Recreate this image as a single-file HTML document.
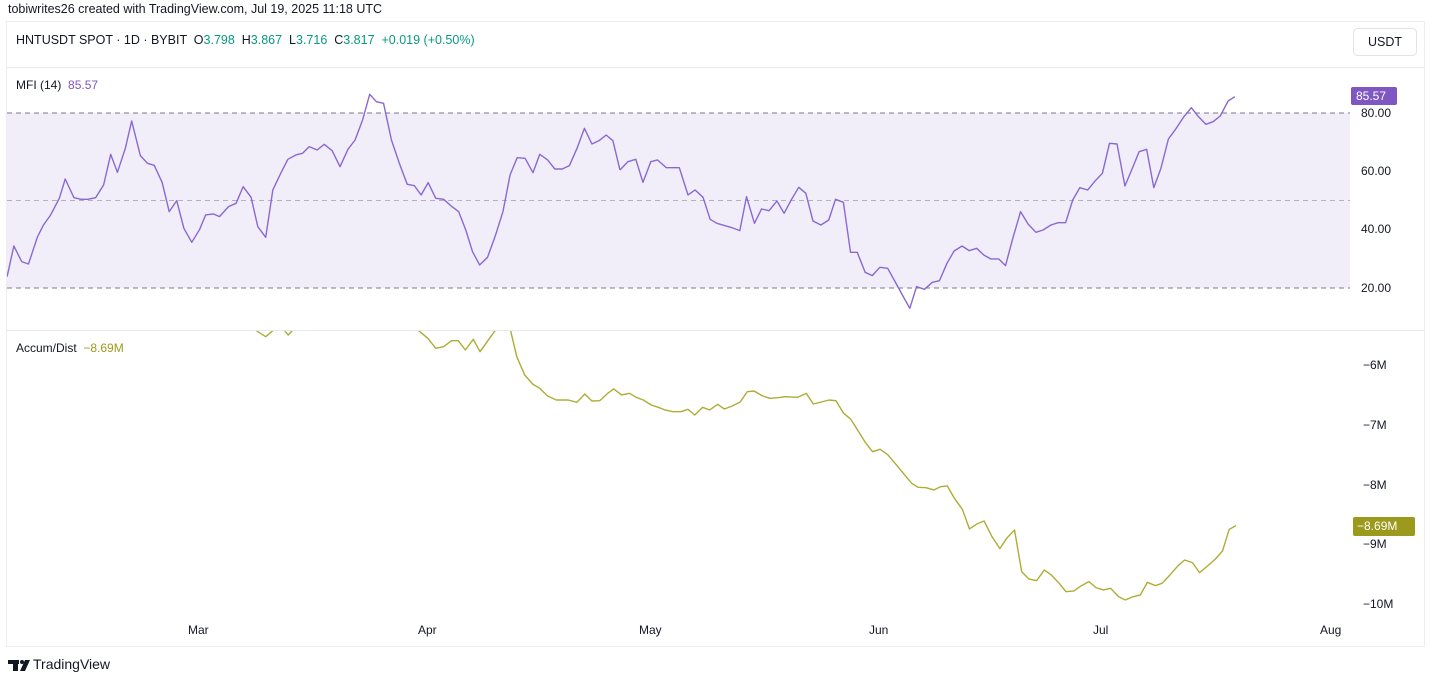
<!DOCTYPE html>
<html><head><meta charset="utf-8">
<style>
html,body{margin:0;padding:0;background:#fff;}
body{width:1438px;height:684px;overflow:hidden;position:relative;font-family:"Liberation Sans",sans-serif;color:#131722;}
.t{position:absolute;white-space:nowrap;font-size:12.5px;}
</style></head><body>
<svg width="1438" height="684" style="position:absolute;left:0;top:0" xmlns="http://www.w3.org/2000/svg">
<defs>
<clipPath id="adclip"><rect x="7" y="331" width="1343" height="290"/></clipPath>
<clipPath id="mclip"><rect x="7" y="68" width="1343" height="262"/></clipPath>
</defs>
<rect x="6.5" y="21.5" width="1418" height="625" fill="#fff" stroke="#eceef3"/>
<line x1="7" y1="67.5" x2="1424" y2="67.5" stroke="#e6e8ef"/>
<line x1="7" y1="330.5" x2="1424" y2="330.5" stroke="#e6e8ef"/>
<rect x="7" y="113" width="1343" height="175" fill="#7e57c2" fill-opacity="0.1"/>
<line x1="7" y1="113" x2="1350" y2="113" stroke="#787b86" stroke-dasharray="5,4"/>
<line x1="7" y1="200.5" x2="1350" y2="200.5" stroke="#9598a1" stroke-dasharray="5,4" stroke-opacity="0.7"/>
<line x1="7" y1="288" x2="1350" y2="288" stroke="#787b86" stroke-dasharray="5,4"/>
<g clip-path="url(#mclip)" fill="none" stroke="#8a68d2" stroke-width="1.4" stroke-linejoin="round">
<polyline vector-effect="non-scaling-stroke" transform="translate(0,60) scale(0.3954,0.3333)" points="18,650 35,558 55,605 72,612 95,530 110,495 128,465 150,415 165,357 187,413 205,418 222,418 242,413 262,375 280,283 297,337 317,265 333,183 355,287 373,310 390,316 410,367 428,455 447,422 465,505 485,547 505,508 520,465 540,462 555,470 578,440 597,430 615,380 635,412 652,500 672,532 690,390 710,340 728,298 748,285 765,280 782,260 802,270 820,253 840,272 860,320 880,268 898,240 917,180 935,103 952,125 970,130 990,240 1010,310 1030,373 1048,377 1065,405 1083,368 1102,415 1122,418 1140,437 1160,455 1178,510 1195,575 1213,615 1233,592 1252,530 1272,455 1290,345 1308,293 1328,295 1348,338 1365,283 1385,300 1403,327 1422,327 1440,317 1460,263 1478,205 1497,252 1515,242 1533,225 1550,242 1568,330"/>
<polyline vector-effect="non-scaling-stroke" transform="translate(620,60) scale(0.3954,0.3333)" points="0,330 20,305 40,298 58,367 78,305 95,300 117,323 150,323 172,405 190,390 210,412 228,478 245,490 283,503 303,512 320,410 340,490 358,447 377,452 397,423 415,460 433,420 452,382 470,400 488,483 508,495 528,480 545,418 565,427 583,577 600,577 620,637 638,647 657,622 677,625 697,668 715,707 733,745 750,680 770,688 790,667 808,662 827,610 845,573 865,558 883,572 902,565 920,585 938,597 958,597 975,617 993,537 1013,455 1032,492 1052,517 1070,510 1090,495 1108,488 1127,488 1145,420 1163,383 1183,390 1200,365 1220,340 1238,250 1257,252 1277,378 1295,327 1313,275 1332,268 1350,383 1368,325 1387,237 1405,208 1425,172 1445,143 1463,170 1482,193 1500,185 1518,168 1538,123 1555,110"/>
</g>
<g clip-path="url(#adclip)" fill="none" stroke="#adad35" stroke-width="1.4" stroke-linejoin="round">
<g transform="translate(240,320) scale(0.3954,0.3333)">
<polyline vector-effect="non-scaling-stroke" points="35,25 45,35 65,50 80,35 90,25"/>
<polyline vector-effect="non-scaling-stroke" points="110,25 115,35 122,45 130,35 135,25"/>
<polyline vector-effect="non-scaling-stroke" points="445,25 455,35 475,55 495,85 515,80 535,62 552,62 570,90 590,58 607,95 625,65 642,37 650,25"/>
<polyline vector-effect="non-scaling-stroke" points="684,25 685,35 700,110 720,165 740,192 758,205 778,228 800,240 830,240 852,247 872,222 890,243 910,242 930,220 945,207 965,225 985,220 1002,232 1020,240 1040,255 1058,262 1075,270 1095,275 1115,275 1133,268 1150,285 1170,262 1188,270 1208,253 1225,267 1245,258 1265,246 1283,215 1300,213 1320,227 1340,235 1360,233 1380,230 1410,232 1432,220 1450,252 1470,246 1490,240"/>
</g>
<polyline vector-effect="non-scaling-stroke" transform="translate(820,320) scale(0.3954,0.3333)" points="22,240 40,242 60,280 78,298 95,330 115,368 133,395 152,388 172,405 192,433 212,462 232,490 248,502 268,503 288,510 305,500 322,498 340,535 360,568 378,627 397,612 415,603 435,650 455,686 472,655 492,630 510,755 528,777 548,782 567,750 585,765 605,790 622,815 642,813 660,798 680,785 698,803 717,810 735,805 755,830 772,840 792,830 810,825 828,787 848,797 865,790 885,765 905,738 922,720 942,728 960,758 980,738 1000,717 1018,693 1035,628 1052,617"/>
</g>
<rect x="1353.5" y="28.5" width="63" height="27" rx="4" fill="#fff" stroke="#e0e3eb"/>
<rect x="1351" y="87" width="46" height="18" rx="2" fill="#7e57c2"/>
<rect x="1353" y="517" width="62" height="19" rx="2" fill="#9c9a1c"/>
<!-- TV logo -->
<g fill="#131722">
<rect x="8" y="660" width="11" height="4"/>
<rect x="13" y="660" width="5" height="11"/>
<circle cx="22" cy="662" r="2"/>
<polygon points="25,660 30,660 25,671 20,671"/>
</g>
</svg>

<div class="t" style="left:8px;top:2px;font-size:12.5px;color:#131722">tobiwrites26 created with TradingView.com, Jul 19, 2025 11:18 UTC</div>
<div class="t" style="left:16px;top:33px;font-size:12.5px">HNTUSDT SPOT · 1D · BYBIT &nbsp;O<span style="color:#089981">3.798</span> &nbsp;H<span style="color:#089981">3.867</span> &nbsp;L<span style="color:#089981">3.716</span> &nbsp;C<span style="color:#089981">3.817</span> &nbsp;<span style="color:#089981">+0.019 (+0.50%)</span></div>
<div class="t" style="left:1368px;top:35px;font-size:12.5px">USDT</div>
<div class="t" style="left:16px;top:78px;font-size:12px">MFI (14) &nbsp;<span style="color:#7e57c2">85.57</span></div>
<div class="t" style="left:16px;top:341px;font-size:12px">Accum/Dist &nbsp;<span style="color:#9c9a1c">−8.69M</span></div>

<div class="t" style="left:1356px;top:89px;color:#fff;font-size:12px">85.57</div>
<div class="t" style="left:1361px;top:106px;font-size:12px">80.00</div>
<div class="t" style="left:1361px;top:164px;font-size:12px">60.00</div>
<div class="t" style="left:1361px;top:222px;font-size:12px">40.00</div>
<div class="t" style="left:1361px;top:281px;font-size:12px">20.00</div>

<div class="t" style="left:1363px;top:358px;font-size:12px">−6M</div>
<div class="t" style="left:1363px;top:418px;font-size:12px">−7M</div>
<div class="t" style="left:1363px;top:478px;font-size:12px">−8M</div>
<div class="t" style="left:1357px;top:519px;font-size:12px;color:#fff">−8.69M</div>
<div class="t" style="left:1363px;top:537px;font-size:12px">−9M</div>
<div class="t" style="left:1363px;top:597px;font-size:12px">−10M</div>

<div class="t" style="left:188px;top:623px;font-size:12px">Mar</div>
<div class="t" style="left:418px;top:623px;font-size:12px">Apr</div>
<div class="t" style="left:639px;top:623px;font-size:12px">May</div>
<div class="t" style="left:869px;top:623px;font-size:12px">Jun</div>
<div class="t" style="left:1093px;top:623px;font-size:12px">Jul</div>
<div class="t" style="left:1320px;top:623px;font-size:12px">Aug</div>

<div class="t" style="left:33px;top:656px;font-size:14px;color:#131722">TradingView</div>
</body></html>
